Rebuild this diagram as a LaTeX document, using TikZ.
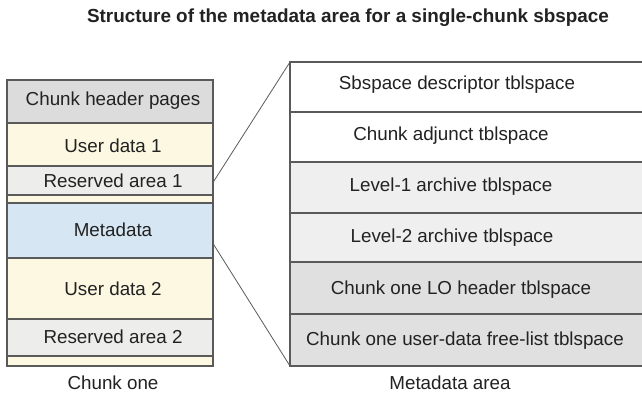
\documentclass[tikz,border=0pt]{standalone}
\usepackage{fontspec}
\setmainfont{Liberation Sans}
\definecolor{edge}{HTML}{5A5A5A}
\definecolor{hdrgray}{HTML}{DCDCDC}
\definecolor{cream}{HTML}{FDF8E2}
\definecolor{resgray}{HTML}{EDEDEB}
\definecolor{metablue}{HTML}{D6E6F2}
\definecolor{lightrow}{HTML}{EFEFEF}
\definecolor{darkrow}{HTML}{E0E0E0}
\definecolor{ink}{HTML}{222222}
\tikzset{
  band/.style={draw=edge, line width=1.3pt, anchor=north west, inner sep=0pt, outer sep=0pt},
  leftband/.style={band, minimum width=206pt},
  rightband/.style={band, minimum width=360pt},
  lbl/.style={text=ink, font=\fontsize{18.8}{22}\selectfont, inner sep=0pt},
  link/.style={draw=edge, line width=0.8pt}
}
\begin{document}
\begin{tikzpicture}[x=1pt,y=-1pt]
\useasboundingbox (0,0) rectangle (642,398);
\clip (0,0) rectangle (642,398);
\fill[white] (0,0) rectangle (642,398);

% title
\node[text=ink, font=\bfseries\fontsize{18.9}{22}\selectfont] (title) at (348,18)
  {Structure of the metadata area for a single-chunk sbspace};

% chunk one, top to bottom
\node[leftband, fill=hdrgray,  minimum height=43pt] (hdr)   at (7,80)  {};
\node[leftband, fill=cream,    minimum height=43pt] (ud1)   at (7,123) {};
\node[leftband, fill=resgray,  minimum height=29pt] (res1)  at (7,166) {};
\node[leftband, fill=cream,    minimum height=8pt]  (gap1)  at (7,195) {};
\node[leftband, fill=metablue, minimum height=55pt] (meta)  at (7,203) {};
\node[leftband, fill=cream,    minimum height=61pt] (ud2)   at (7,258) {};
\node[leftband, fill=resgray,  minimum height=37pt] (res2)  at (7,319) {};
\node[leftband, fill=cream,    minimum height=10pt] (gap2)  at (7,356) {};

\node[lbl] (thdr)  at ([xshift=3pt,yshift=1pt]hdr.center)  {Chunk header pages};
\node[lbl] (tud1)  at ([xshift=3pt,yshift=-1pt]ud1.center) {User data 1};
\node[lbl] (tres1) at ([xshift=3pt]res1.center)            {Reserved area 1};
\node[lbl] (tmeta) at ([xshift=3pt,yshift=1pt]meta.center) {Metadata};
\node[lbl] (tud2)  at ([xshift=3pt]ud2.center)             {User data 2};
\node[lbl] (tres2) at ([xshift=3pt,yshift=1pt]res2.center) {Reserved area 2};
\node[lbl] (chunk) at (113,383) {Chunk one};

% metadata area, top to bottom
\node[rightband, fill=white,    minimum height=50pt] (r1) at (290,62)  {};
\node[rightband, fill=white,    minimum height=50pt] (r2) at (290,112) {};
\node[rightband, fill=lightrow, minimum height=51pt] (r3) at (290,162) {};
\node[rightband, fill=lightrow, minimum height=49pt] (r4) at (290,213) {};
\node[rightband, fill=darkrow,  minimum height=52pt] (r5) at (290,262) {};
\node[rightband, fill=darkrow,  minimum height=52pt] (r6) at (290,314) {};

\node[lbl] (t1) at (457,85)  {Sbspace descriptor tblspace};
\node[lbl] (t2) at (451,136) {Chunk adjunct tblspace};
\node[lbl] (t3) at (451,187) {Level-1 archive tblspace};
\node[lbl] (t4) at (452,238) {Level-2 archive tblspace};
\node[lbl] (t5) at (461,290) {Chunk one LO header tblspace};
\node[lbl] (t6) at (465,341) {Chunk one user-data free-list tblspace};
\node[lbl] (area) at (450,383) {Metadata area};

% expansion lines from the metadata block to the metadata area
\coordinate (mtop) at ([yshift=-2pt]res1.east);
\coordinate (mbot) at ([yshift=-13pt]meta.east);
\draw[link] (mtop) -- (r1.north west);
\draw[link] (mbot) -- (r6.south west);
\end{tikzpicture}
\end{document}
